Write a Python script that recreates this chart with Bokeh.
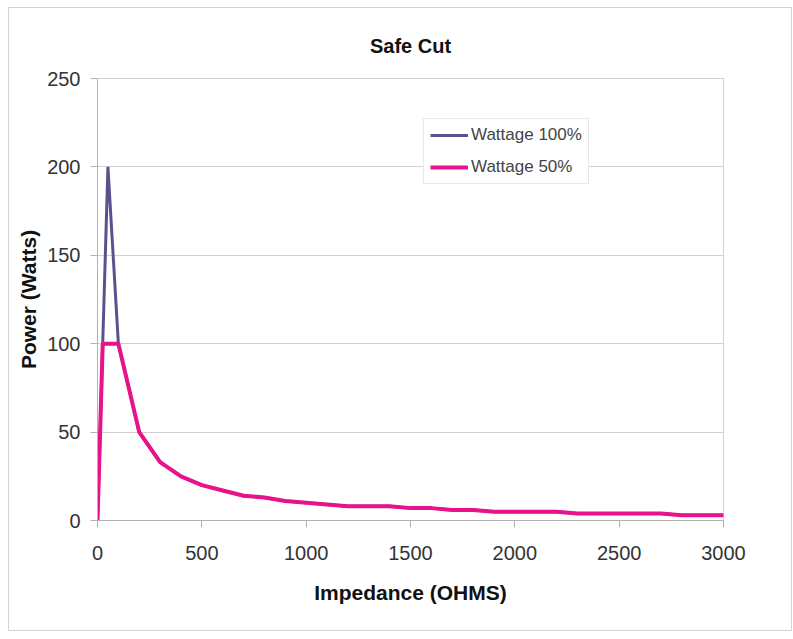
from bokeh.plotting import figure
from bokeh.models import Range1d, FixedTicker, Legend, LegendItem
from bokeh.embed import file_html
from bokeh.resources import INLINE

impedance = [0, 25, 50, 100, 200, 300, 400, 500, 600, 700, 800, 900, 1000,
             1100, 1200, 1300, 1400, 1500, 1600, 1700, 1800, 1900, 2000,
             2100, 2200, 2300, 2400, 2500, 2600, 2700, 2800, 2900, 3000]
wattage_100 = [0, 100, 200, 100, 50, 33, 25, 20, 17, 14, 13, 11, 10,
               9, 8, 8, 8, 7, 7, 6, 6, 5, 5,
               5, 5, 4, 4, 4, 4, 4, 3, 3, 3]
wattage_50 = [0, 100, 100, 100, 50, 33, 25, 20, 17, 14, 13, 11, 10,
              9, 8, 8, 8, 7, 7, 6, 6, 5, 5,
              5, 5, 4, 4, 4, 4, 4, 3, 3, 3]
x_ticks = [0, 500, 1000, 1500, 2000, 2500, 3000]
y_ticks = [0, 50, 100, 150, 200, 250]

FONT = "Liberation Sans"
GRID = "#d6cfcf"
AX = "#b8b0b0"

p = figure(width=785, height=625, output_backend="svg", toolbar_location=None,
           x_range=Range1d(0, 3000), y_range=Range1d(0, 250),
           frame_width=626, frame_height=442,
           min_border_left=88, min_border_top=70, min_border_right=68,
           min_border_bottom=110, title="Safe Cut")
p.margin = (7, 0, 0, 8)
p.styles = {"border": "1px solid #d6d2d2"}

p.title.align = "center"
p.title.text_font = FONT
p.title.text_font_size = "20px"
p.title.text_font_style = "bold"
p.title.text_color = "#111111"
p.title.offset = -4
p.title.standoff = 44

p.line(impedance, wattage_100, line_color="#58528e", line_width=3, name="w100")
p.line(impedance, wattage_50, line_color="#e8128a", line_width=4, name="w50")

r1 = p.renderers[0]
r2 = p.renderers[1]
legend = Legend(items=[LegendItem(label="Wattage 100%", renderers=[r1]),
                       LegendItem(label="Wattage 50%", renderers=[r2])],
                location=(326, 336))
legend.label_text_font = FONT
legend.label_text_font_size = "17px"
legend.label_text_color = "#444444"
legend.glyph_width = 38
legend.glyph_height = 18
legend.spacing = 12
legend.padding = 6
legend.margin = 0
legend.label_standoff = 3
legend.border_line_color = "#d6d0d0"
legend.background_fill_color = "white"
legend.background_fill_alpha = 1
p.add_layout(legend, "center")

p.xgrid.grid_line_color = None
p.ygrid.grid_line_color = GRID
p.ygrid.grid_line_width = 1
p.outline_line_color = GRID

p.xaxis.ticker = FixedTicker(ticks=x_ticks)
p.yaxis.ticker = FixedTicker(ticks=y_ticks)
for ax in (p.xaxis[0], p.yaxis[0]):
    ax.axis_line_color = AX
    ax.major_tick_line_color = AX
    ax.minor_tick_line_color = None
    ax.major_tick_in = 0
    ax.major_tick_out = 7
    ax.major_label_text_font = FONT
    ax.major_label_text_font_size = "20px"
    ax.major_label_text_color = "#333333"
    ax.axis_label_text_font = FONT
    ax.axis_label_text_font_size = "21px"
    ax.axis_label_text_font_style = "bold"
    ax.axis_label_text_color = "#111111"

p.xaxis.axis_label = "Impedance (OHMS)"
p.yaxis.axis_label = "Power (Watts)"
p.xaxis.major_label_standoff = 18
p.yaxis.major_label_standoff = 10
p.xaxis.axis_label_standoff = 18
p.yaxis.axis_label_standoff = 4

open("out.html", "w").write(file_html(p, INLINE))
